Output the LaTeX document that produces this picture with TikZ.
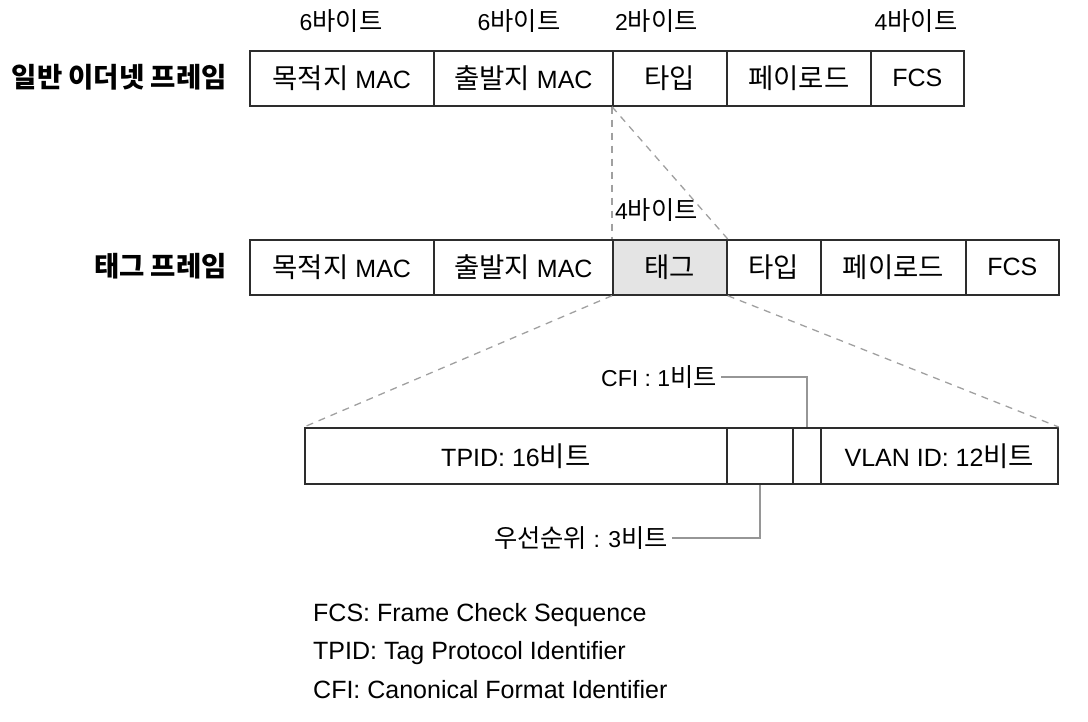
\documentclass[tikz,border=0pt]{standalone}
\usepackage{fontspec}
\setmainfont{Liberation Sans}
\newfontfamily\kr[Scale=1.1]{Noto Sans CJK KR}
\definecolor{linec}{RGB}{45,45,45}
\definecolor{dashc}{RGB}{160,160,160}
\definecolor{leadc}{RGB}{150,150,150}
\definecolor{tagfill}{RGB}{228,228,228}
\begin{document}
\begin{tikzpicture}[x=1pt,y=-1pt,
  cell/.style={draw=linec, line width=1.7pt, minimum height=55pt, inner sep=0pt, anchor=north west, font=\fontsize{25}{29}\selectfont},
  bytelbl/.style={inner sep=0pt, font=\fontsize{23}{27}\selectfont},
  framelbl/.style={anchor=east, inner sep=0pt, font=\fontsize{25}{29}\selectfont\kr\bfseries},
  guide/.style={draw=dashc, line width=1.3pt, dash pattern=on 7pt off 6pt},
  leader/.style={draw=leadc, line width=1.3pt},
  bitlbl/.style={anchor=east, inner sep=4pt, font=\fontsize{23}{27}\selectfont},
  legend/.style={anchor=west, inner sep=0pt, font=\fontsize{25}{29}\selectfont}]
\useasboundingbox (0,0) rectangle (1088,722);
% row 1: ordinary ethernet frame
\node[cell, minimum width=184pt] (a1) at (249,50) {{\kr 목적지} MAC};
\node[cell, minimum width=179pt] (a2) at (433,50) {{\kr 출발지} MAC};
\node[cell, minimum width=114pt] (a3) at (612,50) {\kr 타입};
\node[cell, minimum width=144pt] (a4) at (726,50) {\kr 페이로드};
\node[cell, minimum width=93pt]  (a5) at (870,50) {FCS};
\node[framelbl] (l1) at (227,77) {일반 이더넷 프레임};
% byte labels
\node[bytelbl] (s1) at (341,21) {6{\kr 바이트}};
\node[bytelbl] (s2) at (519,21) {6{\kr 바이트}};
\node[bytelbl, anchor=west] (s3) at (615,21) {2{\kr 바이트}};
\node[bytelbl] (s4) at (916,21) {4{\kr 바이트}};
% row 2: tagged frame
\node[cell, minimum width=184pt] (b1) at (249,239) {{\kr 목적지} MAC};
\node[cell, minimum width=179pt] (b2) at (433,239) {{\kr 출발지} MAC};
\node[cell, minimum width=114pt, fill=tagfill] (b3) at (612,239) {\kr 태그};
\node[cell, minimum width=94pt]  (b4) at (726,239) {\kr 타입};
\node[cell, minimum width=145pt] (b5) at (820,239) {\kr 페이로드};
\node[cell, minimum width=93pt]  (b6) at (965,239) {FCS};
\node[framelbl] (l2) at (227,266) {태그 프레임};
\node[bytelbl, anchor=west] (s5) at (615,210) {4{\kr 바이트}};
% tag detail
\node[cell, minimum width=422pt, minimum height=56pt] (c1) at (304,427) {TPID: 16{\kr 비트}};
\node[cell, minimum width=66pt, minimum height=56pt]  (c2) at (726,427) {};
\node[cell, minimum width=28pt, minimum height=56pt]  (c3) at (792,427) {};
\node[cell, minimum width=237pt, minimum height=56pt] (c4) at (820,427) {VLAN ID: 12{\kr 비트}};
% guide lines
\draw[guide] (a3.south west) -- (b3.north west);
\draw[guide] (a3.south west) -- (b3.north east);
\draw[guide] (b3.south west) -- (c1.north west);
\draw[guide] (b3.south east) -- (c4.north east);
% bit labels
\node[bitlbl] (cfi) at (721,377) {CFI : 1{\kr 비트}};
\node[bitlbl] (pri) at (672,538) {{\kr 우선순위} : 3{\kr 비트}};
\draw[leader] (cfi.east) -- (cfi.east -| c3.north) -- (c3.north);
\draw[leader] (pri.east) -- (pri.east -| c2.south) -- (c2.south);
% legend
\node[legend] (g1) at (313,615) {FCS: Frame Check Sequence};
\node[legend] (g2) at (313,653) {TPID: Tag Protocol Identifier};
\node[legend] (g3) at (313,690) {CFI: Canonical Format Identifier};
\end{tikzpicture}
\end{document}
